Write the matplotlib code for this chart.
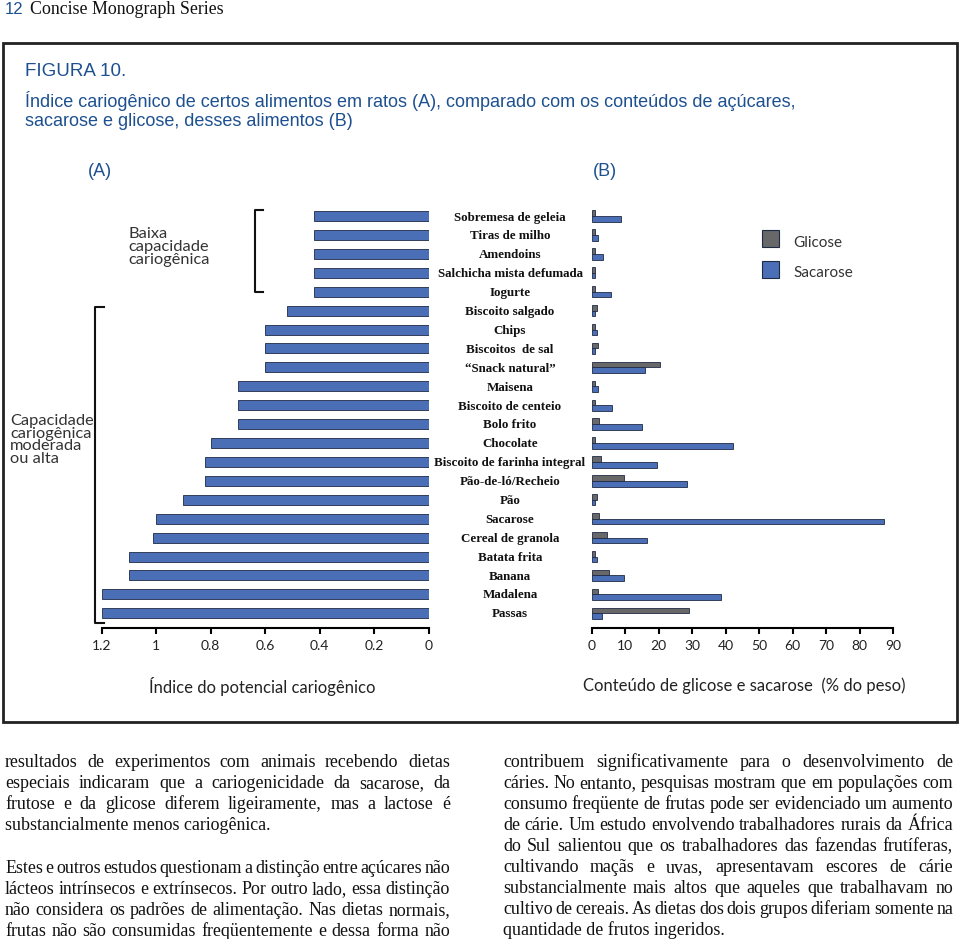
import matplotlib
matplotlib.use("Agg")
import matplotlib.pyplot as plt
from matplotlib.patches import Rectangle
from matplotlib.lines import Line2D
from matplotlib.font_manager import FontProperties

# --- data ---
foods = ["Sobremesa de geleia", "Tiras de milho", "Amendoins", "Salchicha mista defumada",
         "Iogurte", "Biscoito salgado", "Chips", "Biscoitos  de sal", "\u201cSnack natural\u201d",
         "Maisena", "Biscoito de centeio", "Bolo frito", "Chocolate",
         "Biscoito de farinha integral", "Pão-de-ló/Recheio", "Pão", "Sacarose",
         "Cereal de granola", "Batata frita", "Banana", "Madalena", "Passas"]
cario_index = [0.42, 0.42, 0.42, 0.42, 0.42, 0.52, 0.60, 0.60, 0.60, 0.70, 0.70,
               0.70, 0.80, 0.82, 0.82, 0.90, 1.00, 1.01, 1.10, 1.10, 1.20, 1.20]
glicose = [0.9, 0.9, 0.9, 0.9, 0.9, 1.6, 0.9, 1.8, 20.5, 0.9, 0.9, 2.2, 0.9,
           2.8, 9.5, 1.6, 2.2, 4.7, 0.9, 5.3, 1.8, 29.0]
sacarose = [8.8, 1.9, 3.3, 0.9, 5.8, 0.9, 1.6, 0.9, 15.8, 2.0, 6.0, 15.0, 42.3,
            19.6, 28.3, 0.9, 87.2, 16.6, 1.6, 9.5, 38.7, 3.1]
left_ticks = [1.2, 1, 0.8, 0.6, 0.4, 0.2, 0]
left_ticklabels = ["1.2", "1", "0.8", "0.6", "0.4", "0.2", "0"]
right_ticks = [0, 10, 20, 30, 40, 50, 60, 70, 80, 90]

BLUE = "#4a6fb7"
GRAY = "#686868"
EDGE = "#1f2a44"
TITLE_BLUE = "#1d5090"
SANS = "Lato"
SERIF = "Liberation Serif"

W, H = 960, 939
fig = plt.figure(figsize=(W / 100, H / 100), dpi=100)
fig.patch.set_facecolor("white")

# overlay in pixel coordinates for page text, frame and brackets
ov = fig.add_axes([0, 0, 1, 1])
ov.set_xlim(0, W)
ov.set_ylim(H, 0)
ov.axis("off")

def px_axes(x0, x1, y0, y1):
    return fig.add_axes([x0 / W, 1 - y1 / H, (x1 - x0) / W, (y1 - y0) / H])

n = len(foods)
pos = list(range(n))
# centre of first row at 216 px, step 18.9 px, baseline at 627.7 px
step = 18.9
y_top = 216 - 0.76 * step
y_bot = 627.7

# ---- (A) left chart ----
axA = px_axes(101.7, 428.7, y_top, y_bot)
axA.barh(pos, cario_index, height=0.53, color=BLUE, edgecolor=EDGE, linewidth=0.6)
axA.set_xlim(1.2, 0)
axA.set_ylim(n - 1 + 0.76, -0.76)
axA.set_xticks(left_ticks)
axA.set_xticklabels(left_ticklabels)
axA.set_yticks([])

# ---- (B) right chart ----
axB = px_axes(591.7, 893.3, y_top, y_bot)
axB.barh([p - 0.15 for p in pos], glicose, height=0.3, color=GRAY, edgecolor=EDGE,
         linewidth=0.6, label="Glicose")
axB.barh([p + 0.15 for p in pos], sacarose, height=0.3, color=BLUE, edgecolor=EDGE,
         linewidth=0.6, label="Sacarose")
axB.set_xlim(0, 90)
axB.set_ylim(n - 1 + 0.76, -0.76)
axB.set_xticks(right_ticks)
axB.set_yticks([])

for ax in (axA, axB):
    ax.patch.set_alpha(0)
    for s in ("top", "left", "right"):
        ax.spines[s].set_visible(False)
    ax.spines["bottom"].set_linewidth(1.5)
    ax.tick_params(axis="x", direction="out", length=4, width=1.5,
                   pad=5, labelsize=10, labelcolor="#222222")
    for t in ax.get_xticklabels():
        t.set_fontfamily(SANS)

# category labels between the panels
for i, name in enumerate(foods):
    ov.text(510, 216 + i * step, name, ha="center", va="center_baseline", fontsize=9.4,
            fontfamily=SERIF, fontweight="bold", color="#111111")

# legend
ov.add_patch(Rectangle((762, 230), 17, 17, facecolor=GRAY, edgecolor=EDGE, lw=0.8))
ov.add_patch(Rectangle((762, 261), 17, 17, facecolor=BLUE, edgecolor=EDGE, lw=0.8))
ov.text(793, 243, "Glicose", fontsize=11, fontfamily=SANS, color="#333333", va="center")
ov.text(793, 273, "Sacarose", fontsize=11, fontfamily=SANS, color="#333333", va="center")

# axis titles
ov.text(262, 686, "Índice do potencial cariogênico", ha="center", va="center",
        fontsize=12, fontfamily=SANS, color="#222222")
ov.text(744, 686, "Conteúdo de glicose e sacarose  (% do peso)", ha="center", va="center",
        fontsize=12, fontfamily=SANS, color="#222222")

# brackets and group labels
ov.add_line(Line2D([263, 255, 255, 263], [210, 210, 292, 292], color="#111111", lw=1.5))
ov.add_line(Line2D([104, 95, 95, 104], [307, 307, 623, 623], color="#111111", lw=1.5))
ov.text(128, 247, "Baixa\ncapacidade\ncariogênica", ha="left", va="center",
        fontsize=11.8, fontfamily=SANS, color="#333333", linespacing=0.88)
ov.text(10, 440, "Capacidade\ncariogênica\nmoderada\nou alta", ha="left", va="center",
        fontsize=11.8, fontfamily=SANS, color="#333333", linespacing=0.88)

# panel letters
ov.text(100, 172, "(A)", ha="center", va="center", fontsize=13, fontfamily="Liberation Sans",
        color=TITLE_BLUE)
ov.text(605, 172, "(B)", ha="center", va="center", fontsize=13, fontfamily="Liberation Sans",
        color=TITLE_BLUE)

# frame and title
ov.add_patch(Rectangle((3, 43), 954, 679, fill=False, edgecolor="#222222", lw=2))
ov.text(25, 72, "FIGURA 10.", fontsize=13.5, fontfamily="Liberation Sans", color=TITLE_BLUE,
        va="center")
ov.text(25, 101, "Índice cariogênico de certos alimentos em ratos (A), comparado com os "
        "conteúdos de açúcares,", fontsize=13, fontfamily="Liberation Sans",
        color=TITLE_BLUE, va="center")
ov.text(25, 122, "sacarose e glicose, desses alimentos (B)", fontsize=13,
        fontfamily="Liberation Sans", color=TITLE_BLUE, va="center")

# page header
ov.text(5, 10, "12", fontsize=12, fontfamily="Liberation Sans", color=TITLE_BLUE, va="center")
ov.text(30, 10, "Concise Monograph Series", fontsize=12.9, fontfamily=SERIF,
        color="#111111", va="center")

# ---- body text, justified ----
left_lines = [
    "resultados de experimentos com animais recebendo dietas",
    "especiais indicaram que a cariogenicidade da sacarose, da",
    "frutose e da glicose diferem ligeiramente, mas a lactose é",
    "substancialmente menos cariogênica.",
    "",
    "Estes e outros estudos questionam a distinção entre açúcares não",
    "lácteos intrínsecos e extrínsecos. Por outro lado, essa distinção",
    "não considera os padrões de alimentação. Nas dietas normais,",
    "frutas não são consumidas freqüentemente e dessa forma não",
]
left_last = {3}
right_lines = [
    "contribuem significativamente para o desenvolvimento de",
    "cáries. No entanto, pesquisas mostram que em populações com",
    "consumo freqüente de frutas pode ser evidenciado um aumento",
    "de cárie. Um estudo envolvendo trabalhadores rurais da África",
    "do Sul salientou que os trabalhadores das fazendas frutíferas,",
    "cultivando maçãs e uvas, apresentavam escores de cárie",
    "substancialmente mais altos que aqueles que trabalhavam no",
    "cultivo de cereais. As dietas dos dois grupos diferiam somente na",
    "quantidade de frutos ingeridos.",
]
right_last = {8}

BODY_FS = 12.9
renderer = fig.canvas.get_renderer()
body_prop = FontProperties(family=SERIF, size=BODY_FS)

def word_w(s):
    w, h, d = renderer.get_text_width_height_descent(s, body_prop, ismath=False)
    return w

def draw_column(lines, last_set, x0, x1, y0, dy):
    # y0 is the visual centre of the first line; words share one baseline
    y = y0 + 5
    for k, line in enumerate(lines):
        if line:
            words = line.split()
            if k in last_set or len(words) == 1:
                ov.text(x0, y, line, fontproperties=body_prop, va="baseline", color="#111111")
            else:
                widths = [word_w(wd) for wd in words]
                gap = (x1 - x0 - sum(widths)) / (len(words) - 1)
                x = x0
                for wd, ww in zip(words, widths):
                    ov.text(x, y, wd, fontproperties=body_prop, va="baseline", color="#111111")
                    x += ww + gap
        y += dy

draw_column(left_lines, left_last, 5, 450, 762, 21.1)
draw_column(right_lines, right_last, 503, 953, 762, 21.0)

fig.savefig("out.png", dpi=100)
